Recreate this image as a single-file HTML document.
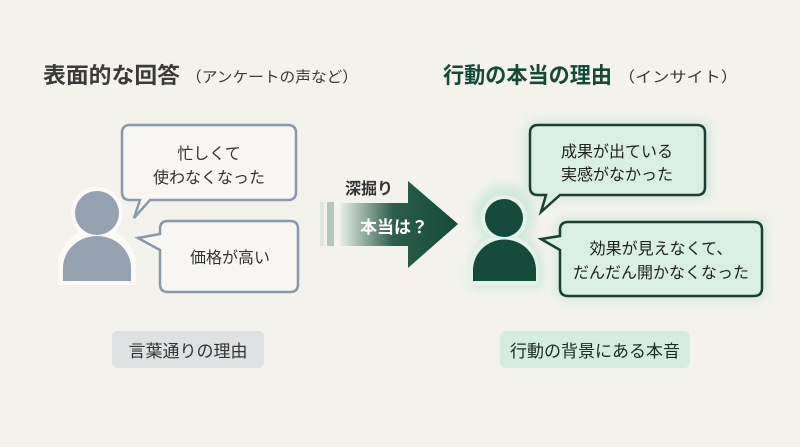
<!DOCTYPE html>
<html><head><meta charset="utf-8"><style>
html,body{margin:0;padding:0;background:#f3f2ed;}
svg{display:block;font-family:"Liberation Sans","Noto Sans CJK JP",sans-serif;}
</style></head><body>
<svg width="800" height="447" viewBox="0 0 800 447" xmlns="http://www.w3.org/2000/svg">
<defs>
<linearGradient id="ag" x1="0" x2="1" y1="0" y2="0">
<stop offset="0" stop-color="#e8efe9"/><stop offset="0.45" stop-color="#2c5e4c"/><stop offset="1" stop-color="#134a3a"/>
</linearGradient>
<filter id="gl" x="-30%" y="-30%" width="160%" height="160%"><feGaussianBlur stdDeviation="5"/></filter>
</defs>
<rect width="800" height="447" fill="#f3f2ed"/>
<!-- titles -->
<text x="43" y="83" font-size="22" font-weight="bold" fill="#3a3a3a" textLength="137" lengthAdjust="spacingAndGlyphs">表面的な回答</text>
<text x="186" y="82" font-size="15" fill="#3a3a3a" textLength="172" lengthAdjust="spacingAndGlyphs">（アンケートの声など）</text>
<text x="443" y="83" font-size="22" font-weight="bold" fill="#134a3a" textLength="169" lengthAdjust="spacingAndGlyphs">行動の本当の理由</text>
<text x="618" y="82" font-size="15" fill="#3a3a3a" textLength="120" lengthAdjust="spacingAndGlyphs">（インサイト）</text>

<!-- left person -->
<circle cx="97" cy="213" r="26" fill="#fbfaf7"/>
<path d="M58 285 L58 266 A39 38 0 0 1 136 266 L136 285 Z" fill="#fbfaf7"/>
<circle cx="97" cy="213" r="22" fill="#95a3b1"/>
<path d="M63 281 L63 268 A34 32 0 0 1 131 268 L131 281 Z" fill="#95a3b1"/>

<!-- left bubbles -->
<path d="M130 125 H288 Q296 125 296 133 V192 Q296 200 288 200 H150 L134 218 L140 200 H130 Q122 200 122 192 V133 Q122 125 130 125 Z" fill="#f7f6f2" stroke="#8a99a7" stroke-width="2.5"/>
<text x="209" y="159" font-size="16" fill="#333" text-anchor="middle">忙しくて</text>
<text x="209" y="183" font-size="16" fill="#333" text-anchor="middle">使わなくなった</text>
<path d="M168 221 H290 Q298 221 298 229 V284 Q298 292 290 292 H168 Q160 292 160 284 V250 L138 238 L160 234 V229 Q160 221 168 221 Z" fill="#f7f6f2" stroke="#8a99a7" stroke-width="2.5"/>
<text x="230" y="263" font-size="16" fill="#333" text-anchor="middle">価格が高い</text>

<rect x="112" y="331" width="152" height="37" rx="6" fill="#dfe1e2"/>
<text x="188" y="357" font-size="17" fill="#333" text-anchor="middle">言葉通りの理由</text>

<!-- arrow -->
<rect x="320" y="202" width="4" height="44" fill="#dfe6e0"/>
<rect x="327" y="202" width="7" height="44" fill="#b5c8bd"/>
<path d="M340 203 H408 V181 L458 224 L408 268 V246 H340 Z" fill="url(#ag)"/>
<text x="345" y="194" font-size="16" font-weight="bold" fill="#333">深掘り</text>
<text x="360" y="233" font-size="17" font-weight="bold" fill="#fff">本当は？</text>

<!-- right person -->
<circle cx="505" cy="215" r="30" fill="#cfe9dc" filter="url(#gl)"/>
<path d="M470 288 V266 A36 36 0 0 1 542 266 V288 Z" fill="#cfe9dc" filter="url(#gl)"/>
<circle cx="504" cy="218" r="23" fill="#e4f1ea"/>
<path d="M469 285 V268 A35 33 0 0 1 539 268 V285 Z" fill="#e4f1ea"/>
<circle cx="504" cy="218" r="19" fill="#134a3a"/>
<path d="M473 281 V270 A31 30 0 0 1 536 270 V281 Z" fill="#134a3a"/>

<!-- right bubbles -->
<rect x="526" y="121" width="184" height="78" rx="10" fill="#cfe9dc" filter="url(#gl)"/>
<path d="M538 125 H697 Q705 125 705 133 V187 Q705 195 697 195 H560 L541 212 L546 195 H538 Q530 195 530 187 V133 Q530 125 538 125 Z" fill="#d9efe3" stroke="#1c3f33" stroke-width="2.5"/>
<text x="617" y="157" font-size="16" fill="#222" text-anchor="middle">成果が出ている</text>
<text x="617" y="180" font-size="16" fill="#222" text-anchor="middle">実感がなかった</text>
<rect x="556" y="218" width="210" height="82" rx="10" fill="#cfe9dc" filter="url(#gl)"/>
<path d="M568 222 H754 Q762 222 762 230 V288 Q762 296 754 296 H568 Q560 296 560 288 V250 L541 239 L560 236 V230 Q560 222 568 222 Z" fill="#d9efe3" stroke="#1c3f33" stroke-width="2.5"/>
<text x="661" y="254" font-size="16" fill="#222" text-anchor="middle">効果が見えなくて、</text>
<text x="661" y="278" font-size="16" fill="#222" text-anchor="middle">だんだん開かなくなった</text>

<rect x="500" y="331" width="190" height="37" rx="6" fill="#d5ece0"/>
<text x="595" y="357" font-size="17" fill="#1a2a24" text-anchor="middle">行動の背景にある本音</text>
</svg>
</body></html>
